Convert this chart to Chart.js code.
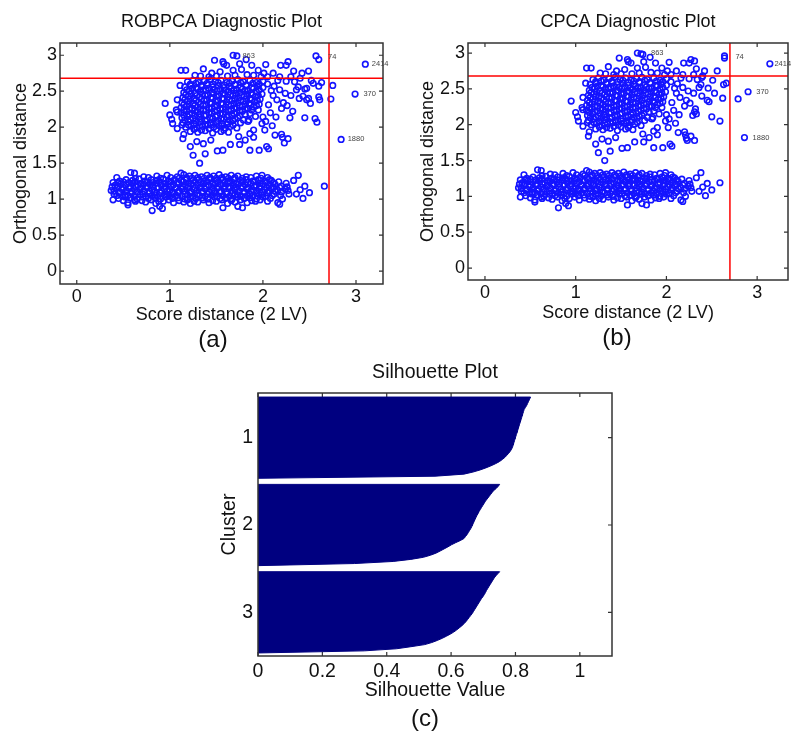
<!DOCTYPE html>
<html>
<head>
<meta charset="utf-8">
<script src="https://cdn.jsdelivr.net/npm/chart.js@4.4.0/dist/chart.umd.min.js"></script>
<style>
  body { margin: 0; background: #fff; width: 800px; height: 743px; position: relative; overflow: hidden; font-family: "Liberation Sans", Arial, sans-serif; }
  canvas { position: absolute; }
  .tag { position: absolute; font-size: 24px; line-height: 24px; transform: translate(-50%, -50%); color: #111; }
</style>
</head>
<body>
<canvas id="robpca" width="400" height="330" style="left:0;top:0"></canvas>
<canvas id="cpca" width="400" height="330" style="left:400px;top:0"></canvas>
<canvas id="silh" width="440" height="345" style="left:200px;top:360px"></canvas>
<div class="tag" style="left:213px;top:339px">(a)</div>
<div class="tag" style="left:617px;top:337px">(b)</div>
<div class="tag" style="left:425px;top:718px">(c)</div>
<script>
// ---- diagnostic plot data (score distance, orthogonal distance) ----
var xTicks = [0, 1, 2, 3];
var yTicks = [0, 0.5, 1, 1.5, 2, 2.5, 3];

// lower group
var lowerCluster = [
  [0.37,1.12],[0.43,1.15],[0.49,1.13],[0.56,1.15],[0.62,1.13],[0.68,1.14],[0.75,1.16],[0.81,1.13],[0.87,1.15],[0.94,1.14],[1.00,1.12],[1.06,1.15],[1.13,1.14],[1.19,1.16],[1.26,1.13],[1.32,1.15],[1.38,1.14],[1.45,1.12],[1.51,1.15],[1.58,1.14],[1.64,1.16],[1.70,1.13],[1.77,1.15],[1.83,1.14],[1.90,1.12],[1.96,1.15],[2.02,1.13],[2.09,1.15],[2.16,1.12],[2.24,1.14],
  [0.40,1.07],[0.46,1.09],[0.52,1.06],[0.59,1.08],[0.65,1.10],[0.71,1.07],[0.78,1.08],[0.84,1.06],[0.90,1.09],[0.97,1.07],[1.03,1.08],[1.09,1.10],[1.16,1.07],[1.22,1.08],[1.29,1.06],[1.35,1.09],[1.41,1.07],[1.48,1.08],[1.54,1.10],[1.61,1.07],[1.67,1.08],[1.73,1.06],[1.80,1.09],[1.86,1.07],[1.93,1.08],[1.99,1.06],[2.05,1.09],[2.12,1.07],[2.19,1.05],
  [0.41,1.19],[0.47,1.21],[0.53,1.20],[0.60,1.22],[0.66,1.19],[0.72,1.21],[0.79,1.20],[0.85,1.22],[0.91,1.19],[0.98,1.21],[1.04,1.20],[1.10,1.22],[1.17,1.19],[1.23,1.21],[1.30,1.20],[1.36,1.22],[1.42,1.19],[1.49,1.21],[1.55,1.20],[1.62,1.22],[1.68,1.19],[1.74,1.21],[1.81,1.20],[1.87,1.22],[1.93,1.19],[2.00,1.21],[2.07,1.19],[2.13,1.21],[2.20,1.18],
  [0.46,1.25],[0.53,1.27],[0.60,1.26],[0.67,1.28],[0.73,1.25],[0.80,1.27],[0.86,1.26],[0.93,1.28],[0.99,1.25],[1.05,1.27],[1.12,1.26],[1.18,1.28],[1.25,1.26],[1.31,1.27],[1.37,1.25],[1.44,1.28],[1.50,1.26],[1.57,1.27],[1.63,1.25],[1.69,1.28],[1.76,1.26],[1.82,1.27],[1.89,1.25],[1.95,1.27],[2.02,1.25],[2.09,1.26],
  [0.72,1.31],[0.86,1.32],[0.97,1.33],[1.08,1.31],[1.15,1.34],[1.21,1.32],[1.27,1.33],[1.34,1.31],[1.40,1.33],[1.47,1.32],[1.53,1.34],[1.60,1.31],[1.66,1.33],[1.73,1.32],[1.82,1.31],[1.93,1.32],[2.05,1.30],
  [0.45,1.01],[0.52,1.03],[0.58,1.02],[0.65,1.00],[0.71,1.03],[0.77,1.01],[0.84,1.02],[0.90,1.00],[0.96,1.03],[1.03,1.01],[1.09,1.02],[1.16,1.00],[1.22,1.03],[1.28,1.01],[1.35,1.02],[1.41,1.00],[1.48,1.03],[1.54,1.01],[1.60,1.02],[1.67,1.00],[1.73,1.03],[1.80,1.01],[1.86,1.02],[1.93,1.00],[2.00,1.03],[2.08,1.01],
  [0.55,0.95],[0.63,0.97],[0.74,0.96],[0.85,0.94],[0.93,0.97],[1.04,0.95],[1.15,0.96],[1.22,0.94],[1.30,0.96],[1.42,0.95],[1.50,0.97],[1.62,0.94],[1.70,0.96],[1.83,0.95],[1.92,0.97],
  [0.40,1.11],[0.46,1.10],[0.53,1.12],[0.59,1.11],[0.65,1.10],[0.72,1.12],[0.78,1.11],[0.84,1.10],[0.91,1.12],[0.97,1.11],[1.03,1.10],[1.10,1.12],[1.16,1.11],[1.23,1.10],[1.29,1.12],[1.35,1.11],[1.42,1.10],[1.48,1.12],[1.55,1.11],[1.61,1.10],[1.67,1.12],[1.74,1.11],[1.80,1.10],[1.87,1.12],[1.93,1.11],[1.99,1.10],[2.06,1.12],[2.13,1.11],[2.20,1.10],[2.27,1.12],
  [0.38,1.17],[0.44,1.18],[0.50,1.16],[0.57,1.17],[0.63,1.18],[0.69,1.16],[0.76,1.17],[0.82,1.18],[0.88,1.16],[0.95,1.17],[1.01,1.18],[1.07,1.16],[1.14,1.17],[1.20,1.18],[1.27,1.16],[1.33,1.17],[1.39,1.18],[1.46,1.16],[1.52,1.17],[1.59,1.18],[1.65,1.16],[1.71,1.17],[1.78,1.18],[1.84,1.16],[1.91,1.17],[1.97,1.18],[2.04,1.16],[2.11,1.17],[2.18,1.16],[2.26,1.17],
  [0.43,1.05],[0.49,1.04],[0.55,1.05],[0.62,1.04],[0.68,1.06],[0.74,1.04],[0.81,1.05],[0.87,1.04],[0.94,1.06],[1.00,1.04],[1.06,1.05],[1.13,1.04],[1.19,1.06],[1.25,1.04],[1.32,1.05],[1.38,1.04],[1.45,1.06],[1.51,1.04],[1.57,1.05],[1.64,1.04],[1.70,1.06],[1.77,1.04],[1.83,1.05],[1.89,1.04],[1.96,1.06],[2.03,1.04],[2.10,1.05],
  [0.44,1.23],[0.50,1.24],[0.56,1.23],[0.63,1.24],[0.69,1.22],[0.76,1.24],[0.82,1.23],[0.89,1.24],[0.95,1.22],[1.01,1.24],[1.08,1.23],[1.14,1.24],[1.20,1.22],[1.27,1.24],[1.33,1.23],[1.40,1.24],[1.46,1.22],[1.52,1.24],[1.59,1.23],[1.65,1.24],[1.71,1.22],[1.78,1.24],[1.84,1.23],[1.91,1.24],[1.97,1.22],[2.04,1.23],[2.11,1.23],[2.17,1.24],
  [0.63,1.29],[0.77,1.30],[0.90,1.29],[1.01,1.30],[1.10,1.29],[1.18,1.30],[1.24,1.29],[1.30,1.30],[1.37,1.29],[1.43,1.30],[1.50,1.29],[1.56,1.30],[1.63,1.29],[1.70,1.30],[1.78,1.29],[1.87,1.30],[1.98,1.29],
  [0.50,0.98],[0.62,0.99],[0.70,0.98],[0.80,0.99],[0.88,0.97],[0.99,0.99],[1.10,0.98],[1.19,0.99],[1.26,0.97],[1.36,0.99],[1.46,0.98],[1.56,0.99],[1.66,0.98],[1.76,0.99],[1.88,0.98],[1.97,0.99],[2.05,0.97],
  [0.58,1.37],[0.43,1.30],[0.39,1.23],[0.39,0.99],[0.55,0.92],[0.81,0.84],[0.89,0.90],[0.92,0.87],[1.57,0.88],[1.73,0.90],[1.78,0.88],[2.16,0.95],[2.18,0.93],[2.21,1.00],[2.38,1.33],[2.33,1.26],[2.45,1.18],[2.43,1.01],[2.50,1.09],[2.25,1.22],[2.28,1.07],[2.36,1.07],[2.40,1.13],[2.07,1.27],[1.99,1.33],[0.62,1.36],[1.12,1.36]
];

// upper group: dense core plus the scatter around it
var upperCluster = [
  [1.19,2.63],[1.25,2.65],[1.31,2.62],[1.37,2.64],[1.43,2.66],[1.49,2.63],[1.55,2.65],[1.61,2.62],[1.67,2.64],[1.73,2.66],[1.79,2.63],[1.86,2.65],[1.93,2.62],[2.00,2.64],
  [1.16,2.56],[1.22,2.58],[1.28,2.55],[1.34,2.57],[1.40,2.59],[1.46,2.56],[1.52,2.58],[1.58,2.55],[1.64,2.57],[1.70,2.59],[1.76,2.56],[1.82,2.58],[1.88,2.55],[1.94,2.57],[2.00,2.55],
  [1.15,2.48],[1.21,2.50],[1.27,2.47],[1.33,2.49],[1.39,2.51],[1.45,2.48],[1.51,2.50],[1.57,2.47],[1.63,2.49],[1.69,2.51],[1.75,2.48],[1.81,2.50],[1.87,2.47],[1.93,2.49],[1.99,2.46],
  [1.14,2.41],[1.20,2.43],[1.26,2.40],[1.32,2.42],[1.38,2.44],[1.44,2.41],[1.50,2.43],[1.56,2.40],[1.62,2.42],[1.68,2.44],[1.74,2.41],[1.80,2.43],[1.86,2.40],[1.92,2.42],[1.97,2.39],
  [1.13,2.34],[1.19,2.36],[1.25,2.33],[1.31,2.35],[1.37,2.37],[1.43,2.34],[1.49,2.36],[1.55,2.33],[1.61,2.35],[1.67,2.37],[1.73,2.34],[1.79,2.36],[1.85,2.33],[1.91,2.35],[1.96,2.32],
  [1.12,2.27],[1.18,2.29],[1.24,2.26],[1.30,2.28],[1.36,2.30],[1.42,2.27],[1.48,2.29],[1.54,2.26],[1.60,2.28],[1.66,2.30],[1.72,2.27],[1.78,2.29],[1.84,2.26],[1.90,2.28],
  [1.12,2.20],[1.18,2.22],[1.24,2.19],[1.30,2.21],[1.36,2.23],[1.42,2.20],[1.48,2.22],[1.54,2.19],[1.60,2.21],[1.66,2.23],[1.72,2.20],[1.78,2.22],[1.86,2.19],
  [1.13,2.13],[1.19,2.15],[1.25,2.12],[1.31,2.14],[1.37,2.16],[1.43,2.13],[1.49,2.15],[1.55,2.12],[1.61,2.14],[1.67,2.16],[1.73,2.13],[1.92,2.15],
  [1.14,2.06],[1.20,2.08],[1.26,2.05],[1.32,2.07],[1.38,2.09],[1.44,2.06],[1.50,2.08],[1.56,2.05],[1.62,2.07],[1.68,2.09],[1.76,2.06],[1.84,2.08],
  [1.17,2.00],[1.23,2.02],[1.29,1.99],[1.35,2.01],[1.41,2.03],[1.47,2.00],[1.53,2.02],[1.59,1.99],[1.65,2.01],[1.72,1.99],
  [1.22,1.94],[1.30,1.93],[1.38,1.95],[1.46,1.92],[1.55,1.94],[1.63,1.93],
  [1.22,2.60],[1.28,2.61],[1.34,2.59],[1.40,2.61],[1.46,2.60],[1.52,2.62],[1.58,2.59],[1.64,2.61],[1.70,2.60],[1.76,2.62],[1.82,2.59],[1.89,2.61],[1.96,2.60],
  [1.18,2.52],[1.24,2.54],[1.30,2.53],[1.36,2.51],[1.42,2.54],[1.48,2.52],[1.54,2.53],[1.60,2.51],[1.66,2.54],[1.72,2.52],[1.78,2.53],[1.84,2.51],[1.90,2.54],[1.96,2.52],
  [1.17,2.45],[1.23,2.46],[1.29,2.44],[1.35,2.46],[1.41,2.45],[1.47,2.47],[1.53,2.44],[1.59,2.46],[1.65,2.45],[1.71,2.47],[1.77,2.44],[1.83,2.46],[1.89,2.45],[1.95,2.44],
  [1.16,2.38],[1.22,2.39],[1.28,2.37],[1.34,2.39],[1.40,2.38],[1.46,2.40],[1.52,2.37],[1.58,2.39],[1.64,2.38],[1.70,2.40],[1.76,2.37],[1.82,2.39],[1.88,2.38],[1.94,2.37],
  [1.15,2.31],[1.21,2.32],[1.27,2.30],[1.33,2.32],[1.39,2.31],[1.45,2.33],[1.51,2.30],[1.57,2.32],[1.63,2.31],[1.69,2.33],[1.75,2.30],[1.81,2.32],[1.87,2.31],[1.93,2.30],
  [1.15,2.24],[1.21,2.25],[1.27,2.23],[1.33,2.25],[1.39,2.24],[1.45,2.26],[1.51,2.23],[1.57,2.25],[1.63,2.24],[1.69,2.26],[1.75,2.23],[1.81,2.25],[1.88,2.24],
  [1.15,2.17],[1.21,2.18],[1.27,2.16],[1.33,2.18],[1.39,2.17],[1.45,2.19],[1.51,2.16],[1.57,2.18],[1.63,2.17],[1.69,2.19],[1.75,2.16],[1.81,2.18],
  [1.16,2.10],[1.22,2.11],[1.28,2.09],[1.34,2.11],[1.40,2.10],[1.46,2.12],[1.52,2.09],[1.58,2.11],[1.64,2.10],[1.70,2.12],[1.79,2.10],
  [1.20,2.03],[1.26,2.04],[1.32,2.02],[1.38,2.04],[1.44,2.03],[1.50,2.05],[1.56,2.02],[1.62,2.04],[1.68,2.03],
  [1.26,1.97],[1.34,1.96],[1.42,1.98],[1.50,1.97],[1.58,1.96],
  [0.95,2.33],[1.00,2.17],[1.02,2.11],[1.03,2.05],[1.07,2.24],[1.08,2.38],[1.11,2.58],[1.08,2.21],[1.13,2.03],[1.14,1.84],[1.22,1.73],[1.25,1.61],[1.32,1.50],[1.38,1.63],[1.51,1.67],[1.57,1.68],[1.36,1.77],[1.29,1.80],[1.44,1.82],[1.65,1.76],
  [1.74,1.87],[1.75,1.76],[1.86,1.68],[1.96,1.68],[2.04,1.73],[2.13,1.89],[2.21,1.86],[2.23,1.78],[1.90,1.86],[1.81,1.82],[1.12,2.79],[1.17,2.79],[1.48,2.93],[1.36,2.81],[1.57,2.91],[1.68,3.00],[1.72,2.99],[1.58,2.88],[1.61,2.86],[1.75,2.88],
  [1.82,2.94],[1.88,2.86],[2.03,2.87],[2.19,2.86],[2.25,2.86],[2.27,2.91],[1.45,2.75],[1.54,2.77],[1.68,2.79],[1.77,2.80],[1.95,2.79],[2.01,2.75],[2.11,2.75],[2.16,2.65],[2.25,2.64],[2.34,2.63],[2.38,2.56],[2.39,2.40],[2.29,2.13],[2.20,2.26],
  [2.22,2.34],[2.15,2.38],[2.11,2.44],[2.09,2.51],[2.06,2.31],[1.95,2.24],[2.02,1.96],[1.90,1.96],[1.86,1.91],[2.20,1.90],[2.27,1.84],[2.06,1.70],[2.05,2.60],[2.12,2.57],[2.18,2.52],[2.24,2.47],[2.30,2.44],[2.08,2.20],[2.14,2.14],[2.03,2.08],
  [2.10,2.02],[2.26,2.30],[2.32,2.22],[2.36,2.52],[2.18,2.70],[2.30,2.70],[2.05,2.70],[1.98,2.70],[1.90,2.72],[1.83,2.73],[1.70,2.72],[1.62,2.71],[1.50,2.71],[1.42,2.70],[1.33,2.71],[1.27,2.72],[2.40,2.68],[2.33,2.78],[2.42,2.75],[2.00,2.14],
  [1.99,2.05],[1.85,2.10],[1.15,1.90],[1.08,1.98]
];

// points that differ between the two panels
var robpcaExtra = [
  [2.57,2.99],[2.60,2.94],[3.10,2.875],[2.99,2.46],[2.84,1.83],[2.49,2.78],[2.52,2.65],[2.63,2.62],[2.60,2.57],[2.75,2.58],[2.73,2.39],[2.45,2.53],
  [2.43,2.43],[2.47,2.38],[2.51,2.33],[2.60,2.42],[2.61,2.38],[2.45,2.13],[2.56,2.12],[2.58,2.07],[2.54,2.61],[2.47,2.54],[2.49,2.40],[2.66,1.18]
];
var cpcaExtra = [
  [1.74,2.98],[2.64,2.96],[2.64,2.93],[3.14,2.85],[2.90,2.46],[2.86,1.82],[2.79,2.36],[2.66,2.58],[2.62,2.37],[2.59,2.05],[2.50,2.11],[2.56,2.75],
  [2.51,2.62],[2.46,2.51],[2.45,2.34],[2.31,2.18],[2.33,2.15],[2.31,1.78],[2.22,1.81],[2.63,2.56],[2.53,2.44],[2.47,2.32],[2.39,2.66],[2.59,1.19],[2.31,2.89]
];

// cutoff lines
var robpcaCutX = 2.71, robpcaCutY = 2.68;
var cpcaCutX = 2.70, cpcaCutY = 2.68;

// outlier labels (text, left edge x, y)
var robpcaLabelText = ['863', '74', '2414', '370', '1880'];
var robpcaLabelX = [1.78, 2.70, 3.17, 3.08, 2.91];
var robpcaLabelY = [2.99, 2.98, 2.875, 2.46, 1.83];
var cpcaLabelText = ['863', '74', '2414', '370', '1880'];
var cpcaLabelX = [1.83, 2.76, 3.19, 2.99, 2.95];
var cpcaLabelY = [3.0, 2.95, 2.85, 2.46, 1.82];

// ---- silhouette data (sorted values per cluster) ----
var clusterNames = ['1', '2', '3'];
var silCluster1 = [0.847,0.844,0.841,0.838,0.835,0.831,0.827,0.825,0.823,0.821,0.819,0.817,0.815,0.813,0.811,0.809,0.807,0.805,0.803,0.801,
  0.799,0.797,0.795,0.793,0.791,0.788,0.784,0.779,0.773,0.767,0.759,0.750,0.738,0.724,0.708,0.690,0.668,0.640,0.550,0.0];
var silCluster2 = [0.751,0.746,0.740,0.732,0.727,0.722,0.717,0.712,0.707,0.703,0.699,0.695,0.691,0.687,0.684,0.680,0.677,0.674,0.671,0.668,
  0.665,0.662,0.658,0.654,0.650,0.645,0.640,0.628,0.614,0.601,0.590,0.578,0.566,0.553,0.536,0.514,0.475,0.420,0.300,0.0];
var silCluster3 = [0.751,0.745,0.739,0.734,0.730,0.726,0.722,0.718,0.714,0.710,0.707,0.703,0.699,0.694,0.690,0.686,0.682,0.678,0.674,0.670,
  0.666,0.661,0.656,0.651,0.646,0.640,0.633,0.625,0.617,0.608,0.597,0.585,0.572,0.557,0.540,0.518,0.475,0.430,0.330,0.0];
var silTicks = [0, 0.2, 0.4, 0.6, 0.8, 1];
var silGap = 3;

Chart.defaults.font.family = '"Liberation Sans", Arial, sans-serif';
Chart.defaults.color = '#111';

// MATLAB-like box with inward ticks, plus text labels next to points
var boxTicks = {
  id: 'boxTicks',
  beforeDatasetsDraw: function (chart) {
    var ctx = chart.ctx, a = chart.chartArea, sx = chart.scales.x, sy = chart.scales.y;
    ctx.save();
    ctx.strokeStyle = '#333';
    ctx.lineWidth = 1.2;
    ctx.beginPath();
    sx.ticks.forEach(function (t) {
      var p = sx.getPixelForValue(t.value);
      ctx.moveTo(p, a.bottom); ctx.lineTo(p, a.bottom - 4);
      ctx.moveTo(p, a.top); ctx.lineTo(p, a.top + 4);
    });
    sy.ticks.forEach(function (t) {
      var p = sy.getPixelForValue(t.value);
      ctx.moveTo(a.left, p); ctx.lineTo(a.left + 4, p);
      ctx.moveTo(a.right, p); ctx.lineTo(a.right - 4, p);
    });
    ctx.stroke();
    ctx.restore();
  },
  afterDatasetsDraw: function (chart, args, opts) {
    var ctx = chart.ctx, a = chart.chartArea, sx = chart.scales.x, sy = chart.scales.y;
    ctx.save();
    ctx.strokeStyle = '#333';
    ctx.lineWidth = 1.5;
    ctx.strokeRect(a.left, a.top, a.width, a.height);
    if (opts.text) {
      ctx.fillStyle = '#444';
      ctx.font = '7.5px "Liberation Sans", Arial, sans-serif';
      ctx.textAlign = 'left';
      ctx.textBaseline = 'middle';
      for (var i = 0; i < opts.text.length; i++) {
        ctx.fillText(opts.text[i], sx.getPixelForValue(opts.x[i]), sy.getPixelForValue(opts.y[i]));
      }
    }
    ctx.restore();
  }
};

function toXY(list) {
  return list.map(function (p) { return { x: p[0], y: p[1] }; });
}

function diagnosticChart(id, o) {
  new Chart(document.getElementById(id), {
    type: 'scatter',
    data: {
      datasets: [
        { data: [{ x: o.cutX, y: o.yMin }, { x: o.cutX, y: o.yMax }], showLine: true, borderColor: '#ff0000', borderWidth: 1.5, pointRadius: 0 },
        { data: [{ x: o.xMin, y: o.cutY }, { x: o.xMax, y: o.cutY }], showLine: true, borderColor: '#ff0000', borderWidth: 1.5, pointRadius: 0 },
        { data: toXY(o.points), pointRadius: 2.8, borderWidth: 1.6, borderColor: '#1414ff', backgroundColor: 'rgba(0,0,0,0)' }
      ]
    },
    options: {
      responsive: false,
      animation: false,
      events: [],
      layout: { padding: { left: 0, right: o.padRight, top: 0, bottom: 0 } },
      plugins: {
        legend: { display: false },
        tooltip: { enabled: false },
        title: { display: true, text: o.title, fullSize: false, font: { size: 18, weight: 'normal' }, padding: { top: 11.2, bottom: 10.2 } },
        boxTicks: { text: o.labelText, x: o.labelX, y: o.labelY }
      },
      scales: {
        x: {
          type: 'linear', min: o.xMin, max: o.xMax,
          afterBuildTicks: function (s) { s.ticks = xTicks.map(function (v) { return { value: v }; }); },
          afterFit: function (s) { s.height = o.xHeight; },
          ticks: { padding: 2, font: { size: 18 }, maxRotation: 0, autoSkip: false, callback: function (v) { return String(v); } },
          grid: { display: false, drawTicks: false },
          border: { display: false },
          title: { display: true, text: 'Score distance (2 LV)', font: { size: 18 }, padding: { top: 0, bottom: o.xTitlePad } }
        },
        y: {
          type: 'linear', min: o.yMin, max: o.yMax,
          afterBuildTicks: function (s) { s.ticks = yTicks.map(function (v) { return { value: v }; }); },
          afterFit: function (s) { s.width = o.yWidth; },
          ticks: { padding: 3, font: { size: 18 }, autoSkip: false, callback: function (v) { return String(v); } },
          grid: { display: false, drawTicks: false },
          border: { display: false },
          title: { display: true, text: 'Orthogonal distance', font: { size: 18 }, padding: { top: o.yTitlePad, bottom: 0 } }
        }
      }
    },
    plugins: [boxTicks]
  });
}

diagnosticChart('robpca', {
  title: 'ROBPCA Diagnostic Plot',
  points: lowerCluster.concat(upperCluster, robpcaExtra),
  cutX: robpcaCutX, cutY: robpcaCutY,
  xMin: -0.18, xMax: 3.29, yMin: -0.18, yMax: 3.17,
  labelText: robpcaLabelText, labelX: robpcaLabelX, labelY: robpcaLabelY,
  padRight: 17, yWidth: 60, xHeight: 46, xTitlePad: 3.7, yTitlePad: 10
});

diagnosticChart('cpca', {
  title: 'CPCA Diagnostic Plot',
  points: lowerCluster.concat(upperCluster, cpcaExtra),
  cutX: cpcaCutX, cutY: cpcaCutY,
  xMin: -0.187, xMax: 3.34, yMin: -0.167, yMax: 3.14,
  labelText: cpcaLabelText, labelX: cpcaLabelX, labelY: cpcaLabelY,
  padRight: 12, yWidth: 68, xHeight: 50, xTitlePad: 6.5, yTitlePad: 17
});

// ---- silhouette plot ----
var silClusters = [silCluster1, silCluster2, silCluster3];
var silOffsets = [];
var off = 0;
silClusters.forEach(function (vals) { silOffsets.push(off); off += vals.length + silGap; });
var silCenters = silClusters.map(function (vals, i) { return silOffsets[i] + vals.length / 2; });

function silShape(vals, start) {
  var n = vals.length;
  var pts = [{ x: 0, y: start }];
  vals.forEach(function (v, i) { pts.push({ x: v, y: start + i * n / (n - 1) }); });
  pts.push({ x: 0, y: start + n });
  return pts;
}

new Chart(document.getElementById('silh'), {
  type: 'scatter',
  data: {
    datasets: silClusters.map(function (vals, i) {
      return { data: silShape(vals, silOffsets[i]), showLine: true, fill: 'shape', tension: 0,
        backgroundColor: '#000080', borderColor: '#000080', borderWidth: 1, pointRadius: 0 };
    })
  },
  options: {
    responsive: false,
    animation: false,
    events: [],
    layout: { padding: { left: 0, right: 28, top: 0, bottom: 0 } },
    plugins: {
      legend: { display: false },
      tooltip: { enabled: false },
      title: { display: true, text: 'Silhouette Plot', fullSize: false, font: { size: 19.5, weight: 'normal' }, padding: { top: 0.8, bottom: 8.8 } },
      boxTicks: {}
    },
    scales: {
      x: {
        type: 'linear', min: 0, max: 1.1,
        afterBuildTicks: function (s) { s.ticks = silTicks.map(function (v) { return { value: v }; }); },
        afterFit: function (s) { s.height = 49; },
        ticks: { padding: 4, font: { size: 19.5 }, maxRotation: 0, autoSkip: false, callback: function (v) { return String(v); } },
        grid: { display: false, drawTicks: false },
        border: { display: false },
        title: { display: true, text: 'Silhouette Value', font: { size: 19.5 }, padding: { top: 0, bottom: 2.8 } }
      },
      y: {
        type: 'linear', min: -2, max: 127.5, reverse: true,
        afterBuildTicks: function (s) { s.ticks = silCenters.map(function (v) { return { value: v }; }); },
        afterFit: function (s) { s.width = 58; },
        ticks: { padding: 5, font: { size: 19.5 }, autoSkip: false, callback: function (v, i) { return clusterNames[i]; } },
        grid: { display: false, drawTicks: false },
        border: { display: false },
        title: { display: true, text: 'Cluster', font: { size: 19.5 }, padding: { top: 18.3, bottom: 0 } }
      }
    }
  },
  plugins: [boxTicks]
});
</script>
</body>
</html>
